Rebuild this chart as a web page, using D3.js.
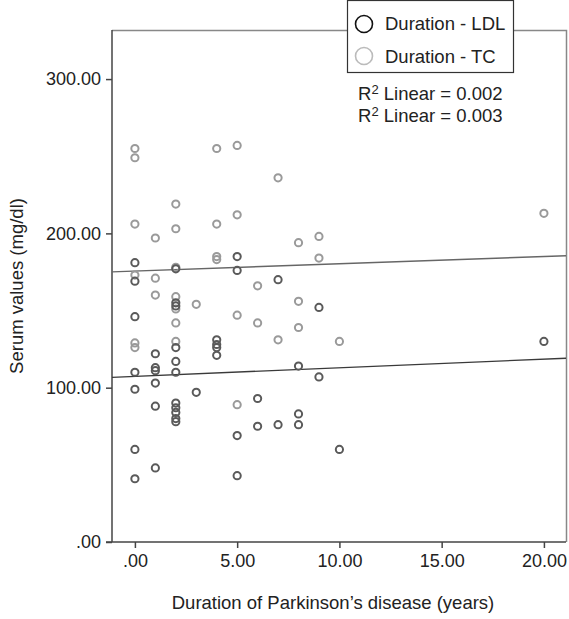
<!DOCTYPE html>
<html>
<head>
<meta charset="utf-8">
<script src="https://cdn.jsdelivr.net/npm/d3@7"></script>
<style>
  body { margin: 0; background: #fff; }
  text { font-family: "Liberation Sans", Arial, sans-serif; fill: #222; }
</style>
</head>
<body>
<svg id="chart" width="569" height="619"></svg>
<script>
// duration (years) vs LDL
var durLDL = [0,0,0,0,0,0,0, 1,1,1,1,1,1, 2,2,2,2,2,2,2,2,2,2,2, 3, 4,4,4,4, 5,5,5,5, 6,6, 7,7, 8,8,8, 9,9, 10, 20];
var ldl    = [181,169,146,110,99,60,41, 122,113,111,103,88,48, 177,155,153,126,117,110,90,87,84,80,78, 97, 131,128,126,121, 185,176,69,43, 93,75, 170,76, 114,83,76, 152,107, 60, 130];

// duration (years) vs TC
var durTC = [0,0,0,0,0,0, 1,1,1, 2,2,2,2,2,2,2, 3, 4,4,4,4, 5,5,5,5, 6,6, 7,7, 8,8,8, 9,9, 10, 20];
var tc    = [255,249,206,173,129,126, 197,171,160, 219,203,178,159,151,142,130, 154, 255,206,185,183, 257,212,147,89, 166,142, 236,131, 194,156,139, 198,184, 130, 213];

// linear fits: [intercept, slope]
var fitLDL = [107.3, 0.56];
var fitTC = [175.6, 0.47];
var r2Labels = ["0.002", "0.003"];

var xTicks = [0, 5, 10, 15, 20];
var yTicks = [0, 100, 200, 300];

var svg = d3.select("#chart");
var pL = 112, pR = 566, pT = 30, pB = 542;

var x = d3.scaleLinear().domain([-1.12, 21.08]).range([pL, pR]);
var y = d3.scaleLinear().domain([0, 331.8]).range([pB, pT]);

function fmt(d) { return d === 0 ? ".00" : d.toFixed(2); }

// frame (top/right)
svg.append("path")
    .attr("d", "M" + pL + "," + (pT + 0.5) + "H" + (pR + 0.5) + "V" + pB)
    .attr("fill", "none").attr("stroke", "#888").attr("stroke-width", 1.5);

var ya = svg.append("g").attr("transform", "translate(" + pL + ",0)")
    .call(d3.axisLeft(y).tickValues(yTicks).tickFormat(fmt).tickSize(6).tickPadding(5));
var xa = svg.append("g").attr("transform", "translate(0," + pB + ")")
    .call(d3.axisBottom(x).tickValues(xTicks).tickFormat(fmt).tickSize(6).tickPadding(6));

[ya, xa].forEach(function(a) {
    a.selectAll(".domain").attr("stroke", "#444").attr("stroke-width", 1.5);
    a.selectAll(".tick line").attr("stroke", "#444").attr("stroke-width", 1.5);
    a.selectAll("text").attr("font-size", 18).attr("fill", "#222")
        .attr("font-family", "'Liberation Sans', Arial, sans-serif");
});
// axis lines span the full plot
ya.select(".domain").attr("d", "M0," + pT + "V" + pB);
xa.select(".domain").attr("d", "M" + (pL - 6) + ",0H" + pR);

// fit lines
function fitLine(f, col) {
    var xs = x.domain();
    svg.append("line")
        .attr("x1", x(xs[0])).attr("y1", y(f[0] + f[1] * xs[0]))
        .attr("x2", x(xs[1])).attr("y2", y(f[0] + f[1] * xs[1]))
        .attr("stroke", col).attr("stroke-width", 1.4);
}
fitLine(fitTC, "#666");
fitLine(fitLDL, "#3a3a3a");

// points
function drawPts(xs, ys, col) {
    svg.append("g").selectAll("circle")
        .data(xs)
        .enter().append("circle")
        .attr("cx", function(d) { return x(d); })
        .attr("cy", function(d, i) { return y(ys[i]); })
        .attr("r", 3.6)
        .attr("fill", "none")
        .attr("stroke", col)
        .attr("stroke-width", 2);
}
drawPts(durTC, tc, "#9a9a9a");
drawPts(durLDL, ldl, "#5a5a5a");

// legend
var lg = svg.append("g");
lg.append("rect").attr("x", 347.5).attr("y", 0.5).attr("width", 166).attr("height", 72)
    .attr("fill", "#fff").attr("stroke", "#333").attr("stroke-width", 1.2);
var items = [["Duration - LDL", "#111"], ["Duration - TC", "#bbb"]];
items.forEach(function(it, i) {
    lg.append("circle").attr("cx", 364).attr("cy", 24 + i * 32).attr("r", 8.5)
        .attr("fill", "none").attr("stroke", it[1]).attr("stroke-width", 1.6);
    lg.append("text").attr("x", 385).attr("y", 30 + i * 33).attr("font-size", 18.5).text(it[0]);
});

r2Labels.forEach(function(v, i) {
    var t = svg.append("text").attr("x", 358).attr("y", 100 + i * 22).attr("font-size", 18.5);
    t.append("tspan").text("R");
    t.append("tspan").attr("font-size", 13).attr("dy", -6).text("2");
    t.append("tspan").attr("dy", 6).text(" Linear = " + v);
});

// axis titles
svg.append("text").attr("x", (pL + pR) / 2 - 6).attr("y", 609)
    .attr("text-anchor", "middle").attr("font-size", 18.5)
    .text("Duration of Parkinson\u2019s disease (years)");
svg.append("text").attr("transform", "translate(23," + ((pT + pB) / 2) + ") rotate(-90)")
    .attr("text-anchor", "middle").attr("font-size", 18.5)
    .text("Serum values (mg/dl)");
</script>
</body>
</html>
